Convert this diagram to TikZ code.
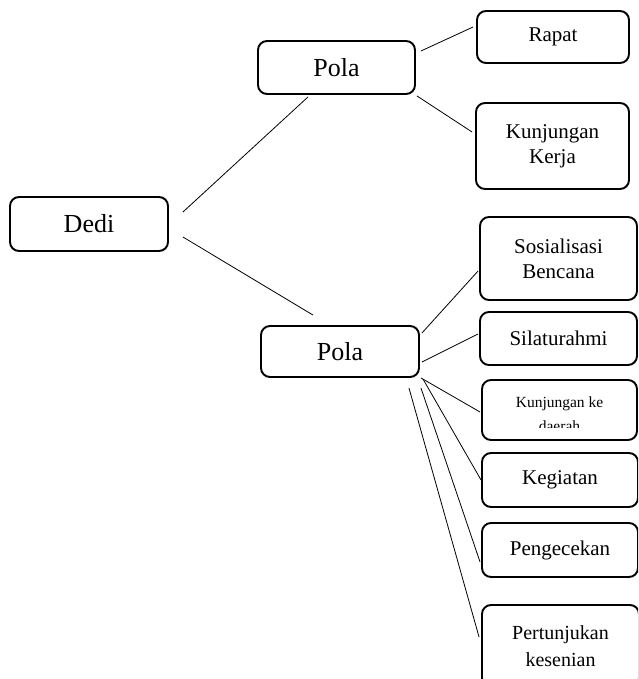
\documentclass[tikz,border=0pt]{standalone}
\usepackage{fontspec}
\setmainfont{Liberation Serif}
\usetikzlibrary{calc}

\begin{document}
\begin{tikzpicture}[x=1pt,y=-1pt,
       kotak/.style={draw,line width=1.9pt,rounded corners=9pt,align=center,inner sep=0pt,font=\fontsize{21}{25}\selectfont},
       kotakbesar/.style={kotak,font=\fontsize{26}{30}\selectfont},
       garis/.style={line width=0.8pt}]
       \clip (0,0) rectangle (638,679);
       \node[kotakbesar,minimum width=158pt,minimum height=54pt] (dedi) at (89,224) {Dedi};
       \node[kotakbesar,minimum width=157pt,minimum height=53pt] (polaA) at (336.5,67.5) {Pola};
       \node[kotakbesar,minimum width=158pt,minimum height=51pt] (polaB) at (340,351.5) {Pola};
       \node[kotak,minimum width=152pt,minimum height=52pt] (rapat) at (553,37) {Rapat};
       \node[kotak,minimum width=153pt,minimum height=86pt] (kkerja) at (552.5,146) {Kunjungan\\Kerja};
       \node[kotak,minimum width=157pt,minimum height=83pt] (sosial) at (558.5,258.5) {Sosialisasi\\Bencana};
       \node[kotak,minimum width=157pt,minimum height=53pt] (silat) at (558.5,338.5) {Silaturahmi};
       \node[kotak,minimum width=155pt,minimum height=60pt] (kdaerah) at (559.5,410) {};
       \node[kotak,minimum width=156pt,minimum height=54pt] (giat) at (560,480) {Kegiatan};
       \node[kotak,minimum width=156pt,minimum height=54pt] (cek) at (560,550) {Pengecekan};
       \node[kotak,minimum width=157pt,minimum height=82pt,font=\fontsize{20}{27}\selectfont] (seni) at (560.5,646) {Pertunjukan\\kesenian};
       \begin{scope}
         \clip (kdaerah.north west) rectangle ($(kdaerah.south east)+(0,-13)$);
         \node[font=\fontsize{15.5}{24}\selectfont,align=center,inner sep=0pt] (kdaerahteks) at (559.5,414.5) {Kunjungan ke\\daerah};
       \end{scope}
       \draw[garis] ($(dedi.east)+(14,-12)$) -- ($(polaA.south)+(-28.5,2)$);
       \draw[garis] ($(dedi.east)+(14,13)$) -- ($(polaB.north)+(-27,-10)$);
       \draw[garis] ($(polaA.east)+(5,-16.5)$) -- ($(rapat.west)+(-3,-10)$);
       \draw[garis] ($(polaA.south east)+(1,1)$) -- ($(kkerja.west)+(-3,-14)$);
       \draw[garis] ($(polaB.east)+(2,-18.5)$) -- ($(sosial.west)+(-1,12.5)$);
       \draw[garis] ($(polaB.east)+(2,10.5)$) -- ($(silat.west)+(-1,-4.5)$);
       \draw[garis] ($(polaB.south east)+(1,0)$) -- ($(kdaerah.west)+(-1,2)$);
       \draw[garis] ($(polaB.south east)+(3,1)$) -- (giat.west);
       \draw[garis] ($(polaB.south east)+(1,10)$) -- ($(cek.west)+(-1,12)$);
       \draw[garis] ($(polaB.south east)+(-11,10)$) -- ($(seni.west)+(-2,-9)$);
     \end{tikzpicture}
\end{document}
